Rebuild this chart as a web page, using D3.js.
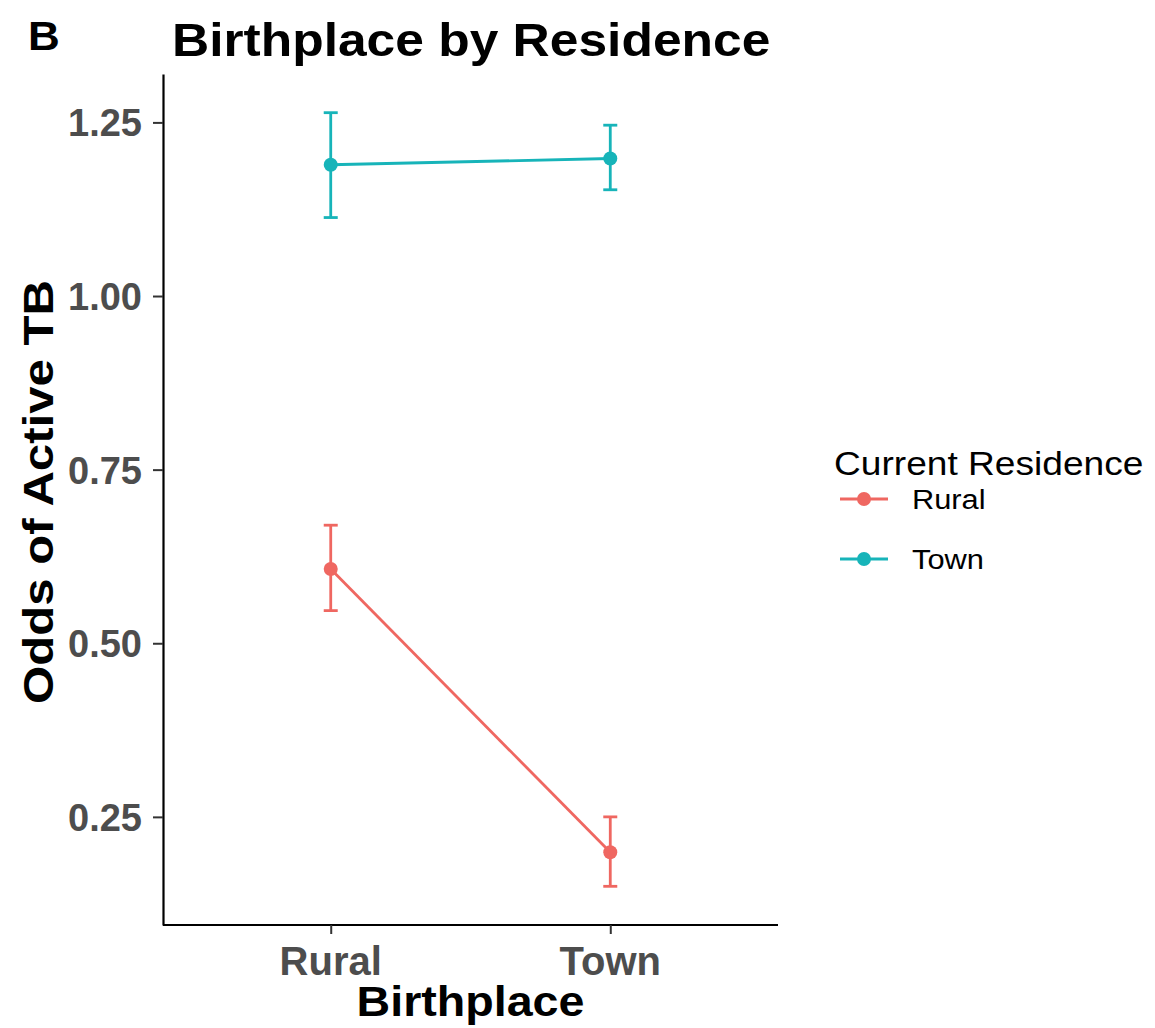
<!DOCTYPE html>
<html><head><meta charset="utf-8">
<script src="https://cdn.jsdelivr.net/npm/d3@7"></script>
<style>body{margin:0;background:#fff}svg{display:block}text{font-family:"Liberation Sans",Arial,sans-serif}</style>
</head><body><svg id="c" width="1155" height="1028"></svg>
<script>
const birthplaces = ["Rural", "Town"];
const residences = ["Rural", "Town"];
const colors = ["#ef6761", "#17b4b9"];
// odds estimates by residence (rows) and birthplace (columns)
const oddsRuralRes = [0.607, 0.199];
const lowerRuralRes = [0.547, 0.150];
const upperRuralRes = [0.670, 0.250];
const oddsTownRes = [1.189, 1.198];
const lowerTownRes = [1.113, 1.153];
const upperTownRes = [1.264, 1.246];
const yTicks = [0.25, 0.50, 0.75, 1.00, 1.25];

const series = [
  {name: residences[0], color: colors[0], v: oddsRuralRes, lo: lowerRuralRes, hi: upperRuralRes},
  {name: residences[1], color: colors[1], v: oddsTownRes, lo: lowerTownRes, hi: upperTownRes}
];

const svg = d3.select("#c");
const L = 163, R = 778, T = 74, B = 925;

const allLo = d3.min(series, s => d3.min(s.lo)), allHi = d3.max(series, s => d3.max(s.hi));
const pad = (allHi - allLo) * 0.05;
const y = d3.scaleLinear().domain([allLo - pad, allHi + pad]).range([B, T]);
// ggplot discrete expansion: 0.6 units on each side of the categories
const x = d3.scalePoint().domain(birthplaces).range([L, R]).padding(0.6);
const xp = c => x(c);

function txt(g, xx, yy, s, opts) {
  return g.append("text").attr("transform", `translate(${xx},${yy}) rotate(${opts.rot || 0}) scale(${opts.sx || 1},1)`)
    .attr("text-anchor", opts.anchor || "start")
    .attr("font-size", opts.size).attr("font-weight", opts.weight || "normal")
    .attr("fill", opts.fill || "#000").text(s);
}

// axes
const gy = svg.append("g").attr("transform", `translate(${L},0)`)
  .call(d3.axisLeft(y).tickValues(yTicks).tickFormat(d3.format(".2f")).tickSize(10).tickSizeOuter(0));
gy.select(".domain").attr("stroke", "#000").attr("stroke-width", 2.2);
gy.selectAll(".tick line").attr("stroke", "#333").attr("stroke-width", 2);
gy.selectAll(".tick text").remove();
yTicks.forEach(t => txt(svg, L - 21, y(t) + 14, d3.format(".2f")(t), {anchor: "end", size: 38, weight: "bold", fill: "#4d4d4d"}));

const gx = svg.append("g").attr("transform", `translate(0,${B})`)
  .call(d3.axisBottom(x).tickSize(9).tickSizeOuter(0));
gx.select(".domain").attr("stroke", "#000").attr("stroke-width", 2.2).attr("d", `M${L},0H${R}`);
gx.selectAll(".tick line").attr("stroke", "#333").attr("stroke-width", 2);
gx.selectAll(".tick text").remove();
birthplaces.forEach(c => txt(svg, xp(c), 975, c, {anchor: "middle", size: 40, weight: "bold", fill: "#4d4d4d"}));

// titles
txt(svg, 28, 50, "B", {size: 40, weight: "bold", sx: 1.1});
txt(svg, 172, 56, "Birthplace by Residence", {size: 46, weight: "bold", sx: 1.12});
txt(svg, (L + R) / 2, 1016, "Birthplace", {anchor: "middle", size: 42, weight: "bold", sx: 1.11});
txt(svg, 53, 492, "Odds of Active TB", {anchor: "middle", size: 42, weight: "bold", sx: 1.17, rot: -90});

// series
const line = d3.line().x(d => xp(d.c)).y(d => y(d.v));
series.forEach(s => {
  const pts = birthplaces.map((c, i) => ({c, v: s.v[i], lo: s.lo[i], hi: s.hi[i]}));
  const g = svg.append("g");
  g.append("path").datum(pts).attr("d", line).attr("fill", "none").attr("stroke", s.color).attr("stroke-width", 2.8);
  pts.forEach(p => {
    const cx = xp(p.c);
    g.append("line").attr("x1", cx).attr("x2", cx).attr("y1", y(p.lo)).attr("y2", y(p.hi)).attr("stroke", s.color).attr("stroke-width", 2.8);
    [p.lo, p.hi].forEach(v => g.append("line").attr("x1", cx - 7).attr("x2", cx + 7).attr("y1", y(v)).attr("y2", y(v)).attr("stroke", s.color).attr("stroke-width", 2.8));
    g.append("circle").attr("cx", cx).attr("cy", y(p.v)).attr("r", 7).attr("fill", s.color);
  });
});

// legend
txt(svg, 834, 475, "Current Residence", {size: 33, sx: 1.125});
series.forEach((s, i) => {
  const ly = 499 + i * 60;
  svg.append("line").attr("x1", 840).attr("x2", 888).attr("y1", ly).attr("y2", ly).attr("stroke", s.color).attr("stroke-width", 2.8);
  svg.append("circle").attr("cx", 864).attr("cy", ly).attr("r", 7).attr("fill", s.color);
  txt(svg, 912, ly + 10, s.name, {size: 28, sx: 1.1});
});
</script></body></html>
